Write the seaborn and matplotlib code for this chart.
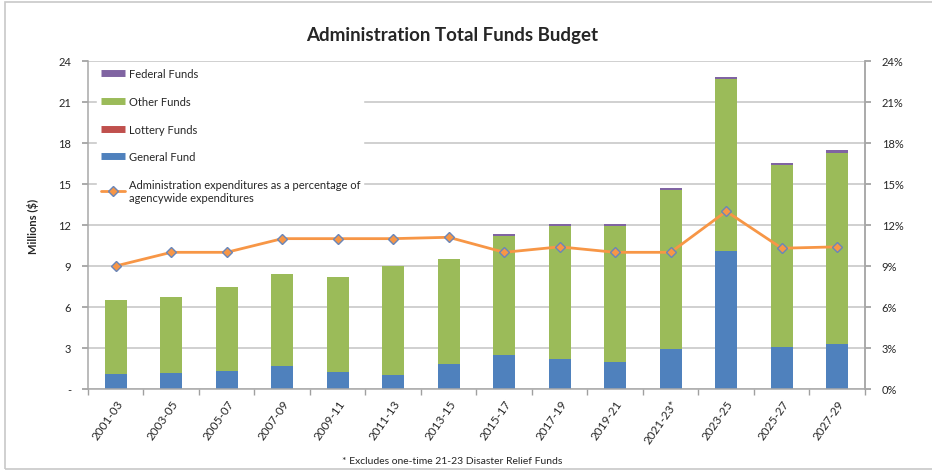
import numpy as np
import pandas as pd
import matplotlib.pyplot as plt
import seaborn as sns
from matplotlib.lines import Line2D
from matplotlib.patches import Rectangle
from matplotlib.ticker import FuncFormatter, MultipleLocator

# Datos (millones de dólares)
bienios = ["2001-03", "2003-05", "2005-07", "2007-09", "2009-11", "2011-13", "2013-15",
           "2015-17", "2017-19", "2019-21", "2021-23*", "2023-25", "2025-27", "2027-29"]
general_fund = [1.07, 1.2, 1.32, 1.66, 1.22, 1.0, 1.8, 2.49, 2.2, 2.0, 2.93, 10.12, 3.1, 3.27]
lottery_funds = [0, 0, 0, 0, 0, 0, 0, 0, 0, 0, 0, 0, 0, 0]
other_funds = [5.43, 5.53, 6.12, 6.78, 6.95, 7.97, 7.7, 8.7, 9.75, 9.95, 11.61, 12.58, 13.26, 14.03]
federal_funds = [0, 0, 0, 0, 0, 0, 0, 0.18, 0.15, 0.15, 0.16, 0.15, 0.2, 0.18]
pct_admin = [9.0, 10.0, 10.0, 11.0, 11.0, 11.0, 11.1, 10.0, 10.4, 10.0, 10.0, 13.0, 10.3, 10.4]

df = pd.DataFrame({
    "bienio": bienios,
    "general": general_fund,
    "lottery": lottery_funds,
    "other": other_funds,
    "federal": federal_funds,
    "pct": pct_admin,
})
df["b_lottery"] = df["general"]
df["b_other"] = df["b_lottery"] + df["lottery"]
df["b_federal"] = df["b_other"] + df["other"]
df["pos"] = np.arange(len(df))

sns.set_theme(style="white")
plt.rcParams["font.family"] = ["Lato", "DejaVu Sans"]

fig = plt.figure(figsize=(9.32, 4.77), dpi=100)
ax = fig.add_axes([0.0944, 0.1824, 0.8337, 0.6877])

# Borde exterior
fig.patches.append(Rectangle((5 / 932, 7 / 477), 930 / 932, 467 / 477, transform=fig.transFigure,
                             fill=False, edgecolor="#c8c8c8", linewidth=1.2))

colores = {"general": "#4f81bd", "lottery": "#c0504d", "other": "#9bbb59", "federal": "#8064a2"}
bases = {"general": None, "lottery": "b_lottery", "other": "b_other", "federal": "b_federal"}

handles = {}
for col in ["general", "lottery", "other", "federal"]:
    kw = {}
    if bases[col] is not None:
        kw["bottom"] = df[bases[col]]
    sns.barplot(data=df, x="bienio", y=col, color=colores[col], width=0.4, saturation=1,
                ax=ax, zorder=2, linewidth=0, **kw)
    handles[col] = Line2D([], [], color=colores[col], lw=5, solid_capstyle="butt")

ax.set_xlim(-0.5, len(df) - 0.5)
ax.set_ylim(0, 24)
ax.yaxis.set_major_locator(MultipleLocator(3))
ax.yaxis.set_major_formatter(FuncFormatter(lambda v, p: "-" if v == 0 else f"{v:.0f}"))
ax.grid(axis="y", color="#c4c4c4", linewidth=1.1, zorder=0)
ax.set_axisbelow(True)
ax.set_xlabel("")
ax.set_ylabel("Millions ($)", fontsize=8, fontweight="bold", labelpad=14)

ax.set_xticks(df["pos"])
ax.set_xticklabels(bienios, rotation=55, ha="right", rotation_mode="anchor", fontsize=8.5)
ax.set_xticks(np.arange(-0.5, len(df)), minor=True)
ax.tick_params(axis="x", which="major", length=0, pad=6)
ax.tick_params(axis="x", which="minor", length=4, color="#a0a0a0", direction="out")
ax.tick_params(axis="y", length=4, color="#a0a0a0", direction="out", labelsize=8, pad=8)
ax.tick_params(bottom=True, left=True, which="both")

ax.spines["top"].set_visible(False)
for lado in ["left", "right", "bottom"]:
    ax.spines[lado].set_color("#a8a8a8")
    ax.spines[lado].set_linewidth(1.1)

# Eje secundario: porcentaje
ax2 = ax.twinx()
sns.lineplot(data=df, x="pos", y="pct", ax=ax2, color="#f79646", linewidth=2,
             marker="D", markersize=5.5, markerfacecolor="#f79646", markeredgecolor="#6a86b8",
             markeredgewidth=1, zorder=5)
ax2.set_ylim(0, 24)
ax2.yaxis.set_major_locator(MultipleLocator(3))
ax2.yaxis.set_major_formatter(FuncFormatter(lambda v, p: f"{v:.0f}%"))
ax2.tick_params(axis="y", length=4, color="#a0a0a0", direction="out", labelsize=8, pad=8, right=True)
ax2.set_ylabel("")
ax2.set_xlabel("")
ax2.set_xlim(-0.5, len(df) - 0.5)
for lado in ["top", "left", "bottom"]:
    ax2.spines[lado].set_visible(False)
ax2.spines["right"].set_color("#a8a8a8")
ax2.spines["right"].set_linewidth(1.1)

linea = Line2D([], [], color="#f79646", lw=2, marker="D", markersize=5,
               markerfacecolor="#f79646", markeredgecolor="#6a86b8")

leg = ax2.legend(
    [handles["federal"], handles["other"], handles["lottery"], handles["general"], linea],
    ["Federal Funds", "Other Funds", "Lottery Funds", "General Fund",
     "Administration expenditures as a percentage of\nagencywide expenditures"],
    loc="upper left", bbox_to_anchor=(0.005, 1.005), fontsize=8, frameon=True,
    facecolor="white", edgecolor="white", framealpha=1, labelspacing=1.5,
    handlelength=2.2, handletextpad=0.3, borderpad=0.3,
)
leg.set_zorder(10)

fig.text(0.485, 0.925, "Administration Total Funds Budget", ha="center", va="center",
         fontsize=13.5, fontweight="bold")
fig.text(0.485, 0.033, "* Excludes one-time 21-23 Disaster Relief Funds", ha="center",
         va="center", fontsize=7.5)

fig.savefig("out.png", dpi=100)
